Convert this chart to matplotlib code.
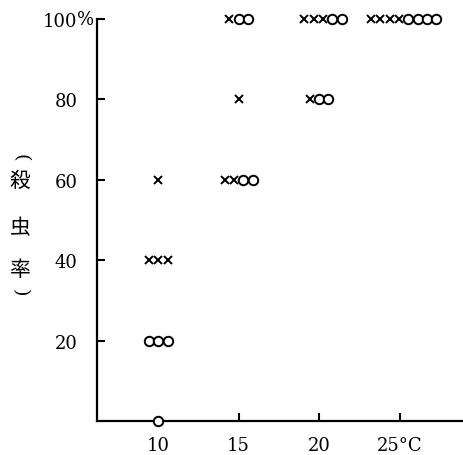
import matplotlib
matplotlib.use("Agg")
import matplotlib.pyplot as plt
import numpy as np

# Data: temperature (°C), mortality (%), number of × and ○ symbols in each row
temps = [10, 10, 10, 10, 15, 15, 15, 20, 20, 25]
mortality = [0, 20, 40, 60, 60, 80, 100, 80, 100, 100]
n_cross = [0, 0, 3, 1, 2, 1, 1, 1, 3, 4]
n_circle = [1, 3, 0, 0, 2, 0, 2, 2, 2, 4]

xticks = [10, 15, 20, 25]
xticklabels = ["10", "15", "20", "25°C"]
yticks = [20, 40, 60, 80, 100]
yticklabels = ["20", "40", "60", "80", "100"]
ylabel_chars = ["殺", "虫", "率"]

num_font = "DejaVu Serif"
cjk = ["Noto Sans CJK JP", "DejaVu Sans"]

fig = plt.figure(figsize=(4.64, 4.56), dpi=100)
ax = fig.add_axes([97 / 464, 34 / 456, 1 - 97 / 464, (422 - 20) / 456])
ax.set_xlim(6.2, 29.0)
ax.set_ylim(0, 100)

step = 0.58
for t, m, nx, no in zip(temps, mortality, n_cross, n_circle):
    n = nx + no
    offs = (np.arange(n) - (n - 1) / 2) * step
    if n >= 5:
        offs = offs + 0.25
    xs = t + offs[:nx]
    os_ = t + offs[nx:]
    if nx:
        ax.plot(xs, [m] * nx, ls="none", marker="x", ms=5.5, mew=1.4,
                color="black", clip_on=False, zorder=3)
    if no:
        ax.plot(os_, [m] * no, ls="none", marker="o", ms=6.8, mew=1.4,
                mfc="white", mec="black", clip_on=False, zorder=4)

for s in ["top", "right"]:
    ax.spines[s].set_visible(False)
for s in ["left", "bottom"]:
    ax.spines[s].set_linewidth(1.6)

ax.set_xticks(xticks)
ax.set_xticklabels(xticklabels)
ax.set_yticks(yticks)
ax.set_yticklabels(yticklabels)
ax.tick_params(axis="both", direction="in", length=6, width=1.5,
               labelsize=13, colors="black")
ax.tick_params(axis="y", pad=14)
ax.tick_params(axis="x", pad=11)
# hide tick mark at 10 (occupied by circle)
ax.xaxis.get_major_ticks()[0].tick1line.set_visible(False)
for lab in ax.get_xticklabels() + ax.get_yticklabels():
    lab.set_fontfamily(num_font)

ax.annotate("%", xy=(0, 100), xycoords=("axes fraction", "data"),
            xytext=(-14.5, 0), textcoords="offset points",
            ha="left", va="center", fontsize=13, family=num_font)

# vertical y label: (殺虫率) written top to bottom
fig.text(20 / 464, 1 - 158 / 456, "(", rotation=-90, ha="center", va="center",
         fontsize=14, family=num_font)
for ch, yp in zip(ylabel_chars, [181, 228, 270]):
    fig.text(20 / 464, 1 - yp / 456, ch, ha="center", va="center",
             fontsize=15, family=cjk)
fig.text(20 / 464, 1 - 293 / 456, ")", rotation=-90, ha="center", va="center",
         fontsize=14, family=num_font)

fig.savefig("out.png", dpi=100, facecolor="white")
